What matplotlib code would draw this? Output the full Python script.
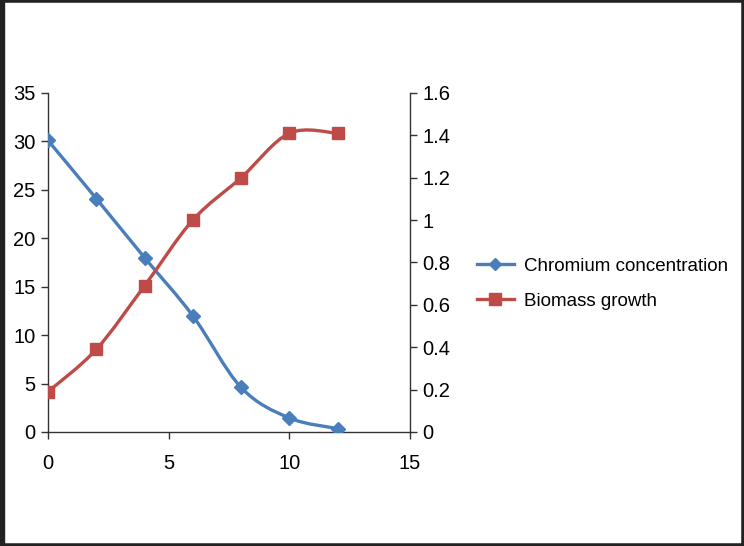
import matplotlib.pyplot as plt
from matplotlib.path import Path
from matplotlib.patches import PathPatch
from matplotlib.lines import Line2D

plt.rcParams['font.family'] = ['Liberation Sans', 'DejaVu Sans']

days = [0, 2, 4, 6, 8, 10, 12]
chromium = [30.1, 24.1, 18.0, 12.0, 4.6, 1.45, 0.35]
biomass = [0.19, 0.39, 0.69, 1.0, 1.2, 1.41, 1.41]

blue = '#4A7EBB'
red = '#BE4B48'


def smooth_path(xs, ys):
    # catmull-rom style bezier through the points, like Excel smoothed lines
    verts = [(xs[0], ys[0])]
    codes = [Path.MOVETO]
    n = len(xs)
    for i in range(n - 1):
        x0, y0 = (xs[i - 1], ys[i - 1]) if i > 0 else (xs[i], ys[i])
        x1, y1 = xs[i], ys[i]
        x2, y2 = xs[i + 1], ys[i + 1]
        x3, y3 = (xs[i + 2], ys[i + 2]) if i + 2 < n else (x2, y2)
        c1 = (x1 + (x2 - x0) / 6, y1 + (y2 - y0) / 6)
        c2 = (x2 - (x3 - x1) / 6, y2 - (y3 - y1) / 6)
        verts += [c1, c2, (x2, y2)]
        codes += [Path.CURVE4] * 3
    return Path(verts, codes)


fig = plt.figure(figsize=(7.44, 5.46), dpi=100)
fig.patches.append(plt.Rectangle((0, 0), 1, 1, transform=fig.transFigure,
                                 fill=False, edgecolor='#222222', linewidth=4))
fig.patches.append(plt.Rectangle((0, 0), 0.006, 1, transform=fig.transFigure,
                                 color='#222222'))
ax = fig.add_axes([0.0645, 0.2088, 0.4866, 0.6209])
ax2 = ax.twinx()

ax.add_patch(PathPatch(smooth_path(days, chromium), fill=False,
                       edgecolor=blue, linewidth=2.4, zorder=2))
ax.plot(days, chromium, linestyle='none', marker='D', markersize=7,
        color=blue, zorder=3)
ax2.add_patch(PathPatch(smooth_path(days, biomass), fill=False,
                        edgecolor=red, linewidth=2.4, zorder=2))
ax2.plot(days, biomass, linestyle='none', marker='s', markersize=9,
         color=red, zorder=3)

ax.set_xlim(0, 15)
ax.set_ylim(0, 35)
ax2.set_ylim(0, 1.6)
ax.set_xticks([0, 5, 10, 15])
ax.set_yticks(range(0, 36, 5))
ax2.set_yticks([0, 0.2, 0.4, 0.6, 0.8, 1, 1.2, 1.4, 1.6])
ax2.set_yticklabels(['0', '0.2', '0.4', '0.6', '0.8', '1', '1.2', '1.4', '1.6'])

for a in (ax, ax2):
    a.spines['top'].set_visible(False)
    for s in a.spines.values():
        s.set_color('#333333')
        s.set_linewidth(1)
    a.tick_params(labelsize=14.5, length=5, width=1, color='#333333', pad=4)
ax.tick_params(axis='x', pad=11)
ax2.spines['bottom'].set_visible(False)
ax2.spines['left'].set_visible(False)
ax.spines['right'].set_visible(False)

handles = [
    Line2D([], [], color=blue, linewidth=2.4, marker='D', markersize=6),
    Line2D([], [], color=red, linewidth=2.4, marker='s', markersize=8),
]
fig.legend(handles, ['Chromium concentration', 'Biomass growth'],
           loc='center left', bbox_to_anchor=(0.618, 0.48), frameon=False,
           fontsize=13.5, handlelength=2.0, labelspacing=0.95,
           handletextpad=0.5)

fig.savefig('out.png', dpi=100)
